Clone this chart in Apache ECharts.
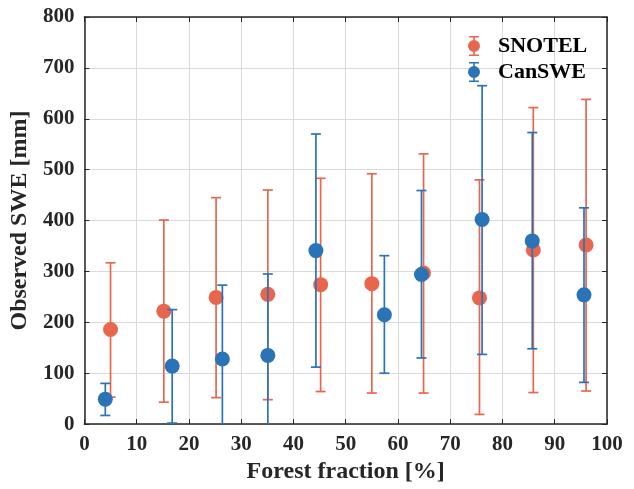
<!DOCTYPE html>
<html>
<head>
<meta charset="utf-8">
<script src="https://cdn.jsdelivr.net/npm/echarts@6/dist/echarts.min.js"></script>
<style>
  html, body { margin: 0; padding: 0; background: #fff; }
  #chart { width: 634px; height: 489px; }
</style>
</head>
<body>
<div id="chart"></div>
<script>
// forest fraction (%) of each bin, per network
const snotelX = [5, 15.2, 25.2, 35.1, 45.2, 55, 64.9, 75.6, 85.9, 96];
const snotelMean = [186, 222, 249, 255, 274, 276, 297, 248, 342, 352];
const snotelLow = [53, 43, 52, 48, 64, 61, 61, 19, 62, 65];
const snotelHigh = [317, 401, 445, 460, 483, 492, 531, 480, 622, 638];

const canX = [4, 16.8, 26.4, 35.1, 44.3, 57.4, 64.5, 76.1, 85.7, 95.6];
const canMean = [49, 114, 128, 135, 341, 215, 294, 402, 360, 254];
const canLow = [17, 2, -30, -30, 112, 100, 130, 137, 148, 82];
const canHigh = [80, 225, 273, 295, 570, 331, 459, 665, 573, 425];

const xTicks = [0, 10, 20, 30, 40, 50, 60, 70, 80, 90, 100];
const yTicks = [0, 100, 200, 300, 400, 500, 600, 700, 800];

const orange = '#E8664E';
const blue = '#2B73B7';
const serif = 'Liberation Serif';

function rows(x, mean, low, high) {
  return x.map((v, i) => [v, mean[i], low[i], high[i]]);
}

// errorbar + marker, drawn together like matlab's errorbar()
function errorItem(color) {
  return function (params, api) {
    const c = api.coord([api.value(0), api.value(1)]);
    const lo = api.coord([api.value(0), api.value(2)]);
    const hi = api.coord([api.value(0), api.value(3)]);
    const cap = 5;
    const line = { stroke: color, lineWidth: 1.7 };
    return {
      type: 'group',
      children: [
        { type: 'line', shape: { x1: c[0], y1: lo[1], x2: c[0], y2: hi[1] }, style: line },
        { type: 'line', shape: { x1: c[0] - cap, y1: hi[1], x2: c[0] + cap, y2: hi[1] }, style: line },
        { type: 'line', shape: { x1: c[0] - cap, y1: lo[1], x2: c[0] + cap, y2: lo[1] }, style: line },
        { type: 'circle', shape: { cx: c[0], cy: c[1], r: 7.5 }, style: { fill: color } }
      ]
    };
  };
}

const legendIcon = 'path://M5.2 0H6.8V20H5.2Z M1 0H11V1.6H1Z M1 18.4H11V20H1Z M0 10A6 6 0 1 1 12 10A6 6 0 1 1 0 10Z';

const chart = echarts.init(document.getElementById('chart'));

const axisLine = { show: true, onZero: false, lineStyle: { color: '#262626', width: 1.5 } };
const tick = { show: true, inside: true, length: 5, lineStyle: { color: '#262626', width: 1 } };
const label = { color: '#262626', fontFamily: serif, fontWeight: 'bold', fontSize: 21 };

chart.setOption({
  animation: false,
  backgroundColor: '#fff',
  grid: { left: 83, right: 27, top: 17, bottom: 64 },
  legend: {
    orient: 'vertical',
    left: 463,
    top: 30,
    itemWidth: 12,
    itemHeight: 20,
    itemGap: 4,
    data: [
      { name: 'SNOTEL', icon: legendIcon },
      { name: 'CanSWE', icon: legendIcon }
    ],
    textStyle: { fontFamily: serif, fontWeight: 'bold', fontSize: 22, color: '#000', padding: [0, 0, 0, 13] }
  },
  xAxis: [
    {
      type: 'value', min: 0, max: 100, interval: 10, position: 'bottom',
      name: 'Forest fraction [%]', nameLocation: 'middle', nameGap: 35,
      nameTextStyle: { fontFamily: serif, fontWeight: 'bold', fontSize: 24, color: '#262626' },
      axisLine: axisLine, axisTick: tick,
      axisLabel: Object.assign({ margin: 10, formatter: v => xTicks.includes(v) ? String(v) : '' }, label),
      splitLine: { show: true, lineStyle: { color: '#dadada', width: 1 } }
    },
    {
      type: 'value', min: 0, max: 100, interval: 10, position: 'top',
      axisLine: axisLine, axisTick: tick, axisLabel: { show: false }, splitLine: { show: false }
    }
  ],
  yAxis: [
    {
      type: 'value', min: 0, max: 800, interval: 100, position: 'left',
      name: 'Observed SWE [mm]', nameLocation: 'middle', nameGap: 46,
      nameTextStyle: { fontFamily: serif, fontWeight: 'bold', fontSize: 24, color: '#262626' },
      axisLine: axisLine, axisTick: tick,
      axisLabel: Object.assign({ margin: 10, formatter: v => yTicks.includes(v) ? String(v) : '' }, label),
      splitLine: { show: true, lineStyle: { color: '#dadada', width: 1 } }
    },
    {
      type: 'value', min: 0, max: 800, interval: 100, position: 'right',
      axisLine: axisLine, axisTick: tick, axisLabel: { show: false }, splitLine: { show: false }
    }
  ],
  series: [
    {
      name: 'SNOTEL', type: 'custom', clip: true, itemStyle: { color: orange },
      encode: { x: 0, y: [1, 2, 3] },
      data: rows(snotelX, snotelMean, snotelLow, snotelHigh),
      renderItem: errorItem(orange)
    },
    {
      name: 'CanSWE', type: 'custom', clip: true, itemStyle: { color: blue },
      encode: { x: 0, y: [1, 2, 3] },
      data: rows(canX, canMean, canLow, canHigh),
      renderItem: errorItem(blue)
    }
  ]
});
</script>
</body>
</html>
